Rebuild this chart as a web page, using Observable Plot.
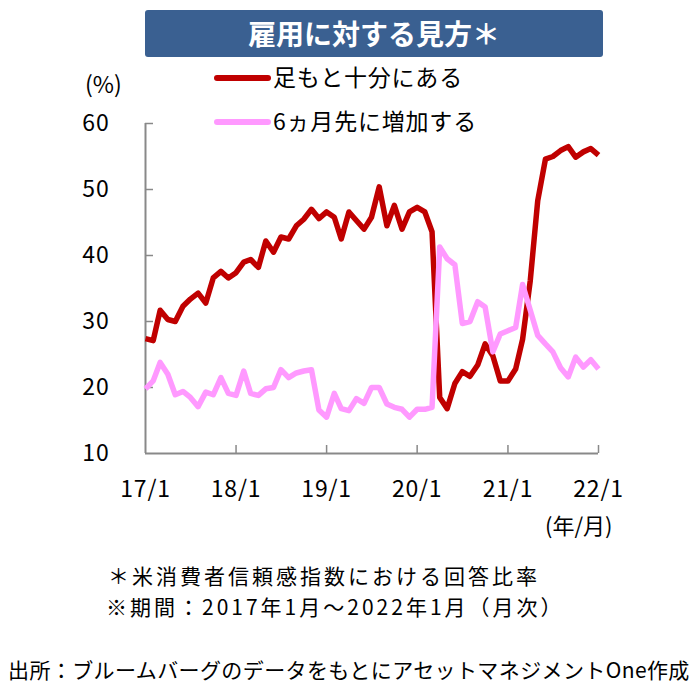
<!DOCTYPE html>
<html>
<head>
<meta charset="utf-8">
<script src="https://cdn.jsdelivr.net/npm/d3@7"></script>
<script src="https://cdn.jsdelivr.net/npm/@observablehq/plot@0.6"></script>
<style>
  body { margin: 0; background: #fff; font-family: "Noto Sans CJK JP", "Noto Sans", sans-serif; }
  #wrap { position: relative; width: 691px; height: 689px; overflow: hidden; }
  .abs { position: absolute; white-space: nowrap; color: #000; line-height: 1.2; }
  #title { left: 145px; top: 10px; width: 458px; height: 47px; background: #3A6091; border-radius: 3px;
           color: #fff; font-weight: bold; font-size: 28px; line-height: 47px; text-align: center; }
  .sw { position: absolute; height: 6px; border-radius: 3px; }
  #chart { position: absolute; left: 0; top: 0; }
  #chart text { letter-spacing: 0.8px; }
</style>
</head>
<body>
<div id="wrap">
  <div id="chart"></div>
  <div class="abs" id="title">雇用に対する見方＊</div>
  <div class="abs" style="left:85px; top:70px; font-size:23px;">(%)</div>
  <div class="sw" id="sw1" style="left:214px; top:75px; width:57px;"></div>
  <div class="abs" id="lg1" style="left:273px; top:63px; font-size:23px; letter-spacing:0.8px;"></div>
  <div class="sw" id="sw2" style="left:214px; top:119px; width:57px;"></div>
  <div class="abs" id="lg2" style="left:273px; top:107px; font-size:23px; letter-spacing:0.8px;"></div>
  <div class="abs" style="left:545px; top:511px; font-size:22px;">(年/月)</div>
  <div class="abs" style="left:108px; top:563px; font-size:21px; letter-spacing:3px;">＊米消費者信頼感指数における回答比率</div>
  <div class="abs" style="left:106px; top:594px; font-size:21px; letter-spacing:3px;">※期間：2017年1月～2022年1月（月次）</div>
  <div class="abs" style="left:8px; top:657px; font-size:21px; letter-spacing:0.4px;">出所：ブルームバーグのデータをもとにアセットマネジメントOne作成</div>
</div>
<script>
const seriesNames = ["足もと十分にある", "6ヵ月先に増加する"];
const seriesColors = ["#C00000", "#FF99FF"];
const startMonth = "2017-01-01";
const endMonth = "2022-01-01";
const currentAdequate = [
  27.4, 27.1, 31.7, 30.3, 30.0, 32.3, 33.4, 34.3, 32.8, 36.6, 37.6, 36.6,
  37.4, 39.0, 39.4, 38.2, 42.2, 40.5, 42.8, 42.5, 44.5, 45.5, 47.0, 45.6,
  46.6, 45.8, 42.5, 46.6, 45.3, 44.0, 45.8, 50.4, 44.5, 47.6, 44.0, 46.6,
  47.3, 46.6, 43.6, 18.5, 16.8, 20.6, 22.4, 21.7, 23.4, 26.6, 24.8, 21.0,
  21.0, 22.8, 27.3, 36.2, 48.3, 54.6, 55.0, 55.9, 56.5, 54.9, 55.7, 56.2,
  55.2
];
const sixMonthsIncrease = [
  19.8, 21.0, 23.8, 22.0, 18.9, 19.4, 18.5, 17.1, 19.3, 18.9, 21.5, 19.1,
  18.8, 22.5, 19.1, 18.8, 19.8, 20.0, 22.7, 21.5, 22.2, 22.5, 22.7, 16.6,
  15.5, 19.1, 16.8, 16.5, 18.3, 17.6, 20.0, 20.0, 17.5, 17.0, 16.7, 15.5,
  16.7, 16.7, 17.0, 41.3, 39.5, 38.6, 29.7, 30.0, 33.0, 32.2, 25.4, 28.1,
  28.6, 29.1, 35.6, 31.7, 27.9, 26.6, 25.4, 23.0, 21.6, 24.6, 23.1, 24.2,
  22.8
];
const yTicks = [10, 20, 30, 40, 50, 60];
const xTickLabels = ["17/1", "18/1", "19/1", "20/1", "21/1", "22/1"];

const d0 = new Date(startMonth), d1 = new Date(endMonth);
const months = d3.utcMonth.range(d0, d3.utcMonth.offset(d1, 1));
const xTickDates = d3.utcYear.range(d0, d3.utcYear.offset(d1, 1));
const rows = [];
months.forEach((m, i) => {
  rows.push({date: m, value: currentAdequate[i], series: seriesNames[0]});
});
months.forEach((m, i) => {
  rows.push({date: m, value: sixMonthsIncrease[i], series: seriesNames[1]});
});

document.getElementById("sw1").style.background = seriesColors[0];
document.getElementById("sw2").style.background = seriesColors[1];
document.getElementById("lg1").textContent = seriesNames[0];
document.getElementById("lg2").textContent = seriesNames[1];

const axisColor = "#898989";
const chart = Plot.plot({
  width: 691,
  height: 512,
  marginLeft: 145,
  marginRight: 93,
  marginTop: 123,
  marginBottom: 59,
  style: {fontFamily: '"Noto Sans CJK JP", "Noto Sans", sans-serif', fontSize: "23px", color: "#000", background: "transparent"},
  x: {type: "utc", domain: [d0, d1], label: null},
  y: {domain: [10, 60], label: null},
  marks: [
    Plot.axisY(yTicks, {tickSize: 0, tickPadding: 36, fontSize: 23, fill: "#000", label: null}),
    Plot.axisX(xTickDates, {tickSize: 0, tickPadding: 27, fontSize: 23, fill: "#000", label: null,
      tickFormat: d => xTickLabels[xTickDates.findIndex(t => +t === +d)]}),
    Plot.ruleX([d0], {y1: 10, y2: 60, stroke: axisColor, strokeWidth: 2}),
    Plot.ruleY([10], {x1: d0, x2: d1, stroke: axisColor, strokeWidth: 2}),
    Plot.ruleY(yTicks.slice(1), {x1: d0, x2: d0, insetRight: -8, stroke: axisColor, strokeWidth: 1.5}),
    Plot.ruleX(xTickDates.slice(1), {y1: 10, y2: 10, insetBottom: 8, stroke: axisColor, strokeWidth: 1.5}),
    Plot.line(rows.filter(r => r.series === seriesNames[0]), {x: "date", y: "value", stroke: seriesColors[0], strokeWidth: 5.5, strokeLinejoin: "round", strokeLinecap: "butt"}),
    Plot.line(rows.filter(r => r.series === seriesNames[1]), {x: "date", y: "value", stroke: seriesColors[1], strokeWidth: 5.5, strokeLinejoin: "round", strokeLinecap: "butt"})
  ]
});
document.getElementById("chart").appendChild(chart);
</script>
</body>
</html>
